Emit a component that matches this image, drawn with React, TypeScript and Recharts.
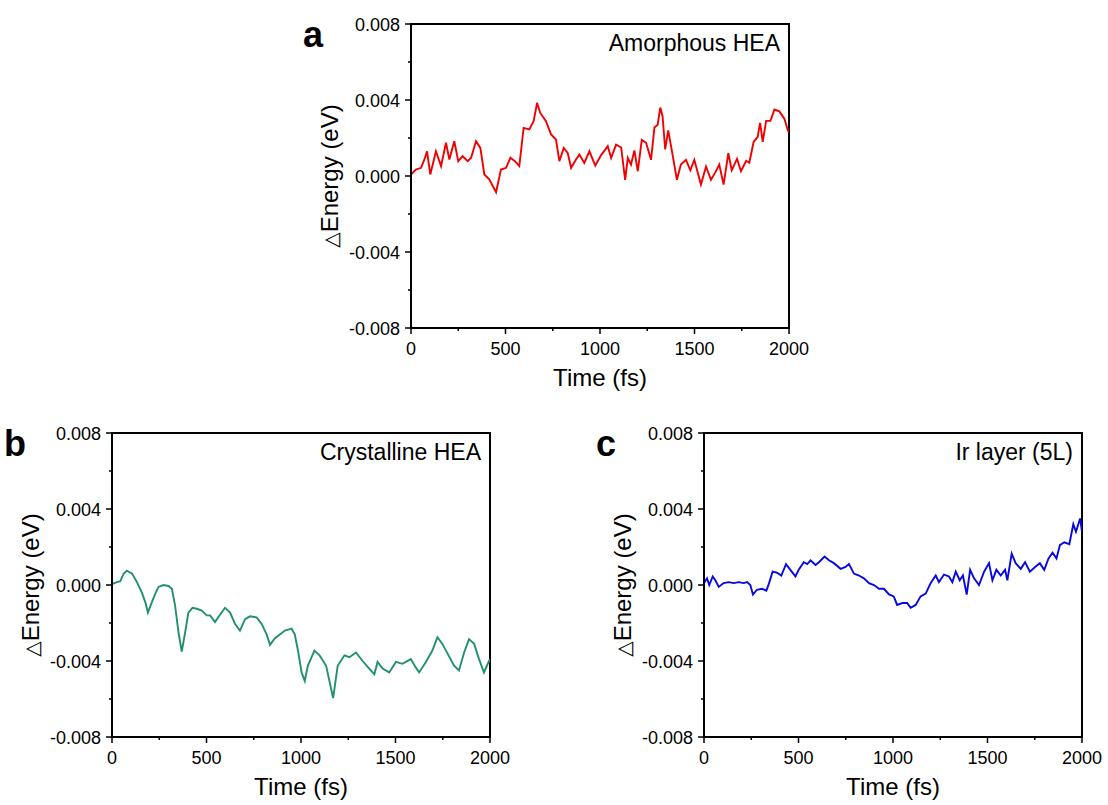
import React from 'react'
import { LineChart, Line, XAxis, YAxis, ReferenceArea } from 'recharts'

const FONT = '"Liberation Sans", Arial, Helvetica, sans-serif'

// axis ticks (energy in units of 0.001 eV)
const timeTicks = [0, 250, 500, 750, 1000, 1250, 1500, 1750, 2000]
const timeMajor = [0, 500, 1000, 1500, 2000]
const energyTicks = [-8, -6, -4, -2, 0, 2, 4, 6, 8]
const energyMajor = [-8, -4, 0, 4, 8]

// a: Amorphous HEA
const amorphousTime = [
  0, 26, 53, 71, 85, 102, 132, 159, 185, 203,
  229, 250, 273, 300, 318, 344, 367, 388, 414, 450,
  476, 503, 526, 550, 573, 596, 626, 649, 667, 684,
  714, 741, 767, 785, 808, 829, 847, 873, 891, 917,
  944, 975, 1006, 1041, 1059, 1085, 1112, 1133, 1147, 1164,
  1182, 1200, 1221, 1244, 1270, 1288, 1305, 1319, 1331, 1345,
  1361, 1379, 1407, 1428, 1455, 1478, 1499, 1534, 1561, 1587,
  1608, 1631, 1654, 1679, 1697, 1725, 1746, 1773, 1790, 1813,
  1834, 1847, 1861, 1879, 1902, 1923, 1949, 1976, 1994, 2000,
]
const amorphousEnergy = [
  0.08, 0.34, 0.43, 0.87, 1.3, 0.08, 1.3, 0.52, 1.75, 0.87,
  1.83, 0.78, 1.04, 0.78, 0.96, 1.83, 1.48, 0.08, -0.18, -0.85,
  0.34, 0.43, 0.96, 0.78, 0.52, 2.53, 2.45, 2.89, 3.85, 3.32,
  2.89, 2.19, 1.92, 0.78, 1.48, 1.22, 0.43, 0.87, 1.13, 0.69,
  1.3, 0.55, 1.1, 1.57, 0.95, 1.65, 1.5, -0.2, 0.95, 0.6,
  1.35, 0.25, 1.9, 1.75, 0.85, 2.55, 2.7, 3.6, 3.15, 1.4,
  2.4, 1.4, -0.2, 0.6, 0.85, 0.3, 0.85, -0.45, 0.5, -0.2,
  0.15, 0.6, -0.45, 1.2, 0.3, 0.9, 0.25, 0.8, 0.7, 1.8,
  2.05, 2.8, 1.8, 2.9, 2.9, 3.5, 3.4, 3.0, 2.4, 2.3,
]

// b: Crystalline HEA
const crystallineTime = [
  0, 26, 44, 62, 79, 106, 132, 158, 176, 190,
  211, 229, 246, 273, 299, 317, 334, 352, 369, 387,
  404, 426, 449, 475, 501, 519, 545, 572, 598, 625,
  651, 677, 704, 730, 765, 792, 818, 836, 862, 888,
  915, 950, 967, 985, 1003, 1020, 1036, 1071, 1098, 1133,
  1170, 1194, 1230, 1256, 1291, 1326, 1361, 1388, 1405, 1432,
  1467, 1502, 1537, 1581, 1608, 1625, 1661, 1695, 1722, 1748,
  1775, 1810, 1836, 1863, 1889, 1916, 1942, 1968, 1995, 2000,
]
const crystallineEnergy = [
  0.05, 0.15, 0.2, 0.6, 0.75, 0.6, 0.15, -0.4, -0.9, -1.45,
  -0.9, -0.45, -0.1, 0.0, -0.05, -0.2, -1.1, -2.5, -3.5, -2.5,
  -1.45, -1.2, -1.25, -1.35, -1.6, -1.6, -1.95, -1.55, -1.2, -1.45,
  -2.05, -2.4, -1.8, -1.65, -1.7, -2.05, -2.6, -3.15, -2.8, -2.6,
  -2.4, -2.3, -2.6, -3.5, -4.6, -5.05, -4.25, -3.45, -3.7, -4.25,
  -5.95, -4.25, -3.7, -3.8, -3.55, -4.0, -4.4, -4.7, -4.05, -4.4,
  -4.6, -4.05, -4.15, -3.9, -4.35, -4.6, -4.05, -3.45, -2.75, -3.1,
  -3.6, -4.25, -4.5, -3.55, -2.85, -3.1, -3.9, -4.6, -4.0, -3.9,
]

// c: Ir layer (5L)
const irTime = [
  0, 16, 28, 46, 60, 78, 104, 131, 157, 184,
  210, 228, 245, 259, 280, 307, 330, 346, 363, 386,
  409, 434, 457, 484, 501, 528, 546, 564, 590, 608,
  638, 661, 687, 723, 749, 767, 793, 820, 846, 873,
  899, 926, 952, 979, 1004, 1022, 1049, 1075, 1093, 1120,
  1146, 1173, 1199, 1226, 1243, 1270, 1296, 1314, 1332, 1353,
  1370, 1390, 1408, 1429, 1455, 1482, 1508, 1526, 1547, 1570,
  1593, 1605, 1628, 1649, 1676, 1699, 1724, 1752, 1777, 1800,
  1823, 1844, 1865, 1883, 1906, 1933, 1954, 1968, 1990, 2000,
]
const irEnergy = [
  0.1, 0.35, 0, 0.45, 0.25, -0.1, 0.1, 0.15, 0.1, 0.15,
  0.1, 0.15, 0, -0.5, -0.25, -0.2, -0.3, 0.15, 0.7, 0.65,
  0.5, 1.1, 0.8, 0.45, 0.8, 1.2, 1.1, 1.3, 1.05, 1.2,
  1.5, 1.3, 1.15, 0.85, 0.95, 1.1, 0.6, 0.5, 0.35, 0.1,
  0, -0.2, -0.2, -0.5, -0.6, -1.05, -0.95, -0.95, -1.2, -1.05,
  -0.6, -0.45, 0.1, 0.5, 0.15, 0.55, 0.45, 0.15, 0.7, 0.25,
  0.5, -0.5, 0.8, 0.35, 0, 0.7, 1.15, 0.25, 0.8, 0.5,
  0.8, 0.25, 1.65, 1.15, 0.85, 1.2, 0.7, 0.95, 1.15, 0.8,
  1.4, 1.7, 1.4, 2.1, 2.25, 2.15, 3.2, 2.8, 3.5, 2.8,
]

const PLOT_W = 378
const PLOT_H = 304
const PLOT_LEFT = 112
const PLOT_TOP = 24
const Y_AXIS_W = 60
const X_AXIS_H = 40
const MARGIN = { top: PLOT_TOP, right: 24, bottom: 28, left: PLOT_LEFT - Y_AXIS_W }
const CHART_W = PLOT_LEFT + PLOT_W + MARGIN.right
const CHART_H = PLOT_TOP + PLOT_H + X_AXIS_H + MARGIN.bottom
const frame = { stroke: '#000', strokeWidth: 2 }

function TimeTick(props: any) {
  const { x, y, payload } = props
  const major = timeMajor.includes(payload.value)
  return (
    <g>
      <line x1={x} y1={y} x2={x} y2={y + (major ? 6 : 3)} stroke="#000" strokeWidth={1.5} />
      {major && (
        <text x={x} y={y + 27} textAnchor="middle" fontSize={18} fontFamily={FONT} fill="#000">
          {payload.value}
        </text>
      )}
    </g>
  )
}

function EnergyTick(props: any) {
  const { x, y, payload } = props
  const major = energyMajor.includes(payload.value)
  return (
    <g>
      <line x1={x - (major ? 6 : 3)} y1={y} x2={x} y2={y} stroke="#000" strokeWidth={1.5} />
      {major && (
        <text x={x - 11} y={y + 6.5} textAnchor="end" fontSize={18} fontFamily={FONT} fill="#000">
          {(payload.value / 1000).toFixed(3)}
        </text>
      )}
    </g>
  )
}

const TimeTitle = () => (
  <text x={PLOT_LEFT + PLOT_W / 2} y={PLOT_TOP + PLOT_H + 58} textAnchor="middle" fontSize={24} fontFamily={FONT} fill="#000">
    Time (fs)
  </text>
)

const EnergyTitle = () => (
  <text
    transform={`translate(${PLOT_LEFT - 73}, ${PLOT_TOP + PLOT_H / 2}) rotate(-90)`}
    textAnchor="middle"
    fontSize={24}
    fontFamily={FONT}
    fill="#000"
  >
    <tspan fontFamily='"DejaVu Sans", sans-serif' fontSize={20}>△</tspan>Energy (eV)
  </text>
)

type PanelProps = {
  letter: string
  name: string
  time: number[]
  energy: number[]
  color: string
  left: number
  top: number
}

function Panel({ letter, name, time, energy, color, left, top }: PanelProps) {
  const data = time.map((t, i) => ({ t, e: energy[i] }))
  return (
    <div style={{ position: 'absolute', left, top, width: CHART_W, height: CHART_H }}>
      <LineChart width={CHART_W} height={CHART_H} data={data} margin={MARGIN}>
        <XAxis
          dataKey="t"
          type="number"
          domain={[0, 2000]}
          ticks={timeTicks}
          interval={0}
          height={X_AXIS_H}
          tickSize={0}
          tickMargin={0}
          tickLine={false}
          axisLine={frame}
          tick={TimeTick}
          label={TimeTitle}
          allowDataOverflow
        />
        <YAxis
          type="number"
          domain={[-8, 8]}
          ticks={energyTicks}
          interval={0}
          width={Y_AXIS_W}
          tickSize={0}
          tickMargin={0}
          tickLine={false}
          axisLine={frame}
          tick={EnergyTick}
          label={EnergyTitle}
          allowDataOverflow
        />
        <ReferenceArea
          x1={0}
          x2={2000}
          y1={-8}
          y2={8}
          fill="none"
          fillOpacity={0}
          stroke="#000"
          strokeWidth={2}
          ifOverflow="visible"
        />
        <Line
          dataKey="e"
          type="linear"
          stroke={color}
          strokeWidth={1.9}
          dot={false}
          activeDot={false}
          isAnimationActive={false}
        />
      </LineChart>
      <svg
        width={CHART_W}
        height={CHART_H}
        style={{ position: 'absolute', left: 0, top: 0, pointerEvents: 'none' }}
      >
        <text x={PLOT_LEFT - 108} y={PLOT_TOP + 23} fontSize={36} fontWeight="bold" fontFamily={FONT} fill="#000">
          {letter}
        </text>
        <text x={PLOT_LEFT + PLOT_W - 9} y={PLOT_TOP + 27} textAnchor="end" fontSize={23} fontFamily={FONT} fill="#000">
          {name}
        </text>
      </svg>
    </div>
  )
}

export default function App() {
  return (
    <div
      style={{
        position: 'absolute',
        left: 0,
        top: 0,
        width: 1108,
        height: 805,
        overflow: 'hidden',
        background: '#fff',
      }}
    >
      <Panel letter="a" name="Amorphous HEA" time={amorphousTime} energy={amorphousEnergy} color="#f00000" left={299} top={0} />
      <Panel letter="b" name="Crystalline HEA" time={crystallineTime} energy={crystallineEnergy} color="#20916c" left={0} top={409} />
      <Panel letter="c" name="Ir layer (5L)" time={irTime} energy={irEnergy} color="#0808e0" left={592} top={409} />
    </div>
  )
}
